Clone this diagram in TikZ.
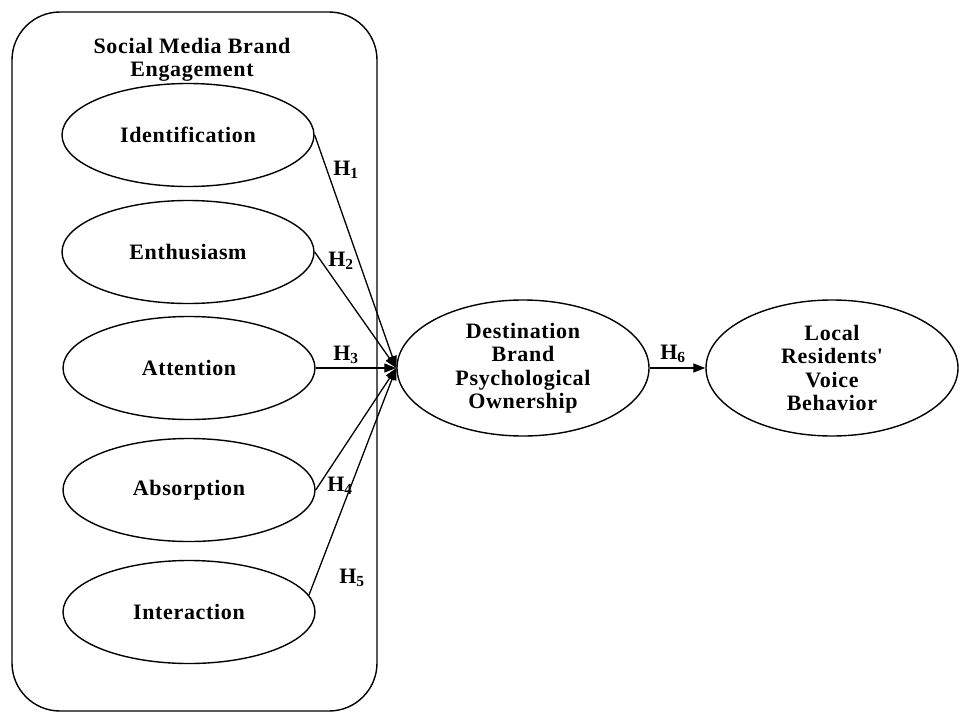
\documentclass[tikz,border=0pt]{standalone}
\usepackage{fontspec}
\setmainfont{Liberation Serif}[LetterSpace=3]
\usetikzlibrary{arrows.meta, shapes.geometric, positioning}
\tikzset{
    >={Triangle[length=12pt, width=9pt]},
    txt/.style={font=\bfseries\fontsize{22}{23.5}\selectfont, align=center},
    dim/.style={txt, ellipse, draw, line width=1.4pt, inner sep=0pt,
        minimum width=252pt, minimum height=103pt},
    big/.style={dim, minimum width=252pt, minimum height=136pt},
    hline/.style={->, line width=1.3pt}
}

\begin{document}
\begin{tikzpicture}[x=1pt, y=-1pt]
    \useasboundingbox (0, 0) rectangle (960, 712);
    % engagement block
    \draw[line width=1.4pt, rounded corners=48pt] (12, 12) rectangle (377, 711);
    \node[txt] (title) at (192, 60) {Social Media Brand\\Engagement};
    % dimensions
    \node[dim] (ident) at (188, 135) {Identification};
    \node[dim] (enth)  at (188, 252) {Enthusiasm};
    \node[dim] (atten) at (189, 368) {Attention};
    \node[dim] (absor) at (189, 490) {Absorption};
    \node[dim] (inter) at (189, 612) {Interaction};
    % outcomes
    \node[big] (dest)  at (523, 368) {Destination\\Brand\\Psychological\\Ownership};
    \node[big] (local) at (832, 368) {Local\\Residents\textquotesingle\\Voice\\Behavior};
    % paths
    \draw[hline] (ident.east) -- (dest.west);
    \draw[hline] (enth.east)  -- (dest.west);
    \draw[hline] (atten.east) -- (dest.west);
    \draw[hline] (absor.east) -- (dest.west);
    \draw[hline] (inter.8)    -- (dest.west);
    \draw[hline] (dest.east)  -- (local.west);
    % hypotheses
    \node[txt] (h1) at (346, 170) {H\textsubscript{1}};
    \node[txt] (h2) at (341, 261) {H\textsubscript{2}};
    \node[txt] (h3) at (346, 355) {H\textsubscript{3}};
    \node[txt] (h4) at (340, 486) {H\textsubscript{4}};
    \node[txt] (h5) at (352, 578) {H\textsubscript{5}};
    \node[txt] (h6) at (673, 354) {H\textsubscript{6}};
\end{tikzpicture}
\end{document}
